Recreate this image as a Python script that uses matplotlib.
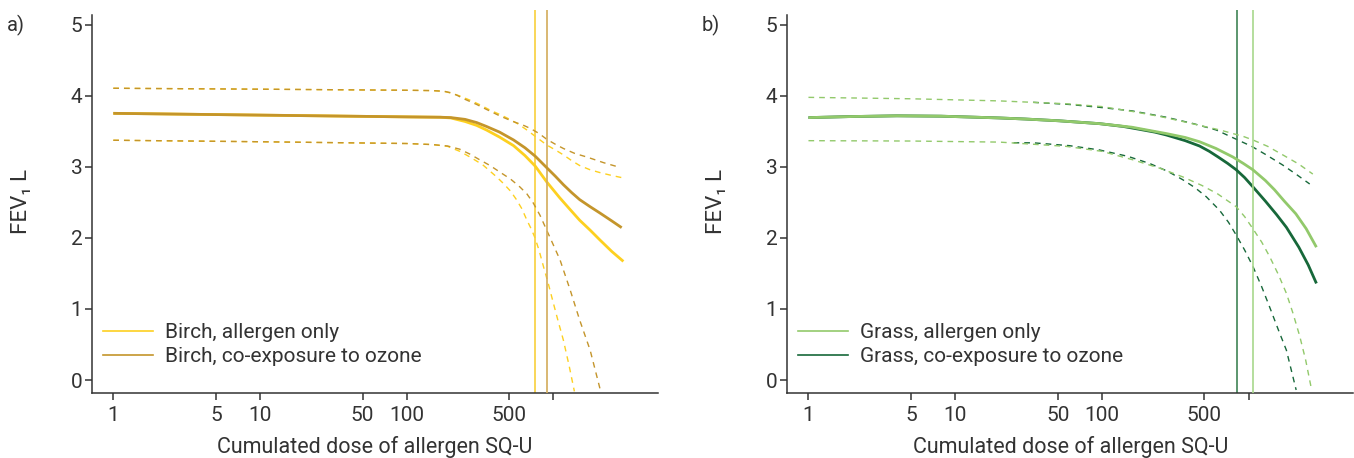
import matplotlib
matplotlib.use("Agg")
import matplotlib.pyplot as plt
from matplotlib.lines import Line2D

plt.rcParams['font.family'] = ['Roboto', 'DejaVu Sans']

# ---------------- data (dose SQ-U, FEV1 L) ----------------
# Panel a: birch
birch_only_x = [1, 10, 100, 170, 200, 250, 300, 350, 430, 535, 640, 753, 900,
                1100, 1300, 1510, 1780, 2080, 2500, 3000]
birch_only_y = [3.755, 3.73, 3.705, 3.70, 3.69, 3.64, 3.585, 3.52, 3.42, 3.30, 3.16, 3.01, 2.79,
                2.57, 2.40, 2.25, 2.11, 1.97, 1.81, 1.67]
birch_only_up_x = [1, 10, 100, 150, 180, 200, 230, 270, 320, 370, 430, 505, 580, 660, 753,
                   900, 1030, 1170, 1330, 1510, 1780, 2080, 2500, 2920]
birch_only_up_y = [4.108, 4.095, 4.08, 4.075, 4.065, 4.04, 4.00, 3.94, 3.87, 3.80, 3.74, 3.67, 3.60,
                   3.52, 3.43, 3.31, 3.24, 3.17, 3.09, 3.02, 2.96, 2.92, 2.88, 2.85]
birch_only_lo_x = [1, 10, 100, 150, 190, 230, 270, 330, 410, 455, 510, 560, 610, 660, 705, 750,
                   800, 855, 925, 1000, 1080, 1170, 1280, 1390]
birch_only_lo_y = [3.376, 3.355, 3.33, 3.315, 3.29, 3.22, 3.14, 3.03, 2.86, 2.77, 2.66, 2.54, 2.41,
                   2.25, 2.13, 2.00, 1.82, 1.60, 1.35, 1.08, 0.82, 0.56, 0.20, -0.16]

birch_oz_x = [1, 10, 100, 170, 200, 250, 300, 350, 430, 535, 640, 753, 900, 1030,
              1170, 1330, 1510, 1780, 2080, 2500, 2920]
birch_oz_y = [3.755, 3.73, 3.705, 3.70, 3.695, 3.67, 3.625, 3.57, 3.49, 3.38, 3.27, 3.15, 2.99, 2.87,
              2.75, 2.64, 2.54, 2.44, 2.35, 2.24, 2.145]
birch_oz_up_x = [1, 10, 100, 150, 180, 200, 220, 245, 300, 350, 430, 530, 620, 700, 800, 900,
                 1030, 1170, 1400, 1690, 2200, 2770]
birch_oz_up_y = [4.108, 4.095, 4.08, 4.075, 4.065, 4.045, 4.01, 3.96, 3.88, 3.81, 3.72, 3.64, 3.59,
                 3.54, 3.47, 3.39, 3.32, 3.26, 3.19, 3.14, 3.06, 3.00]
birch_oz_lo_x = [1, 10, 100, 150, 190, 230, 270, 315, 370, 430, 510, 590, 660, 730, 810, 900,
                 1000, 1110, 1300, 1510, 1780, 2100]
birch_oz_lo_y = [3.376, 3.355, 3.33, 3.315, 3.295, 3.25, 3.18, 3.10, 3.02, 2.93, 2.83, 2.72, 2.62,
                 2.49, 2.32, 2.11, 1.90, 1.69, 1.27, 0.845, 0.42, -0.16]

birch_only_thr = 753
birch_oz_thr = 904

# Panel b: grass
grass_only_x = [1, 2, 4, 8, 14, 20, 30, 51, 96, 160, 275, 370, 463, 600, 782, 920, 1070,
                1300, 1500, 1750, 2100, 2470, 2900]
grass_only_y = [3.695, 3.71, 3.72, 3.715, 3.70, 3.69, 3.675, 3.65, 3.61, 3.56, 3.47, 3.415, 3.355,
                3.26, 3.14, 3.05, 2.96, 2.81, 2.68, 2.52, 2.34, 2.13, 1.87]
grass_only_up_x = [1, 5, 20, 57, 100, 163, 250, 356, 500, 640, 782, 920, 1070, 1350, 1710,
                   2200, 2740]
grass_only_up_y = [3.98, 3.96, 3.93, 3.89, 3.85, 3.78, 3.71, 3.64, 3.57, 3.52, 3.47, 3.43, 3.38,
                   3.29, 3.17, 3.04, 2.90]
grass_only_lo_x = [1, 5, 20, 57, 100, 163, 250, 356, 480, 616, 824, 940, 1070, 1230, 1390, 1600,
                   1810, 2000, 2230, 2450, 2690]
grass_only_lo_y = [3.37, 3.365, 3.35, 3.29, 3.22, 3.10, 2.98, 2.86, 2.74, 2.62, 2.44, 2.30, 2.13,
                   1.94, 1.74, 1.48, 1.22, 0.95, 0.62, 0.28, -0.14]

grass_oz_x = [1, 2, 4, 8, 14, 20, 30, 51, 96, 140, 180, 230, 275, 370, 463, 540, 620, 720, 824,
              940, 1070, 1300, 1550, 1810, 2200, 2550, 2900]
grass_oz_y = [3.695, 3.71, 3.72, 3.715, 3.70, 3.69, 3.675, 3.65, 3.61, 3.57, 3.53, 3.49, 3.45,
              3.37, 3.295, 3.22, 3.14, 3.05, 2.96, 2.85, 2.72, 2.52, 2.33, 2.15, 1.87, 1.62, 1.36]
grass_oz_up_x = [34, 60, 96, 160, 275, 420, 603, 824, 1050, 1320, 1700, 2100, 2610]
grass_oz_up_y = [3.91, 3.88, 3.84, 3.79, 3.70, 3.61, 3.52, 3.39, 3.29, 3.17, 3.03, 2.90, 2.76]
grass_oz_lo_x = [25, 34, 60, 96, 150, 211, 280, 356, 430, 515, 634, 730, 824, 940, 1070, 1230,
                 1390, 1600, 1810, 2110]
grass_oz_lo_y = [3.34, 3.34, 3.30, 3.24, 3.15, 3.05, 2.94, 2.82, 2.71, 2.58, 2.39, 2.22, 2.04,
                 1.83, 1.60, 1.31, 1.03, 0.70, 0.42, -0.14]

grass_only_thr = 1065
grass_oz_thr = 829

xticks = [1, 5, 10, 50, 100, 500, 1000]
xticklabels = ['1', '5', '10', '50', '100', '500', '']
yticks = [0, 1, 2, 3, 4, 5]

# ---------------- styling ----------------
C_YEL = '#FDD020'
C_YEL_V = '#F8D03C'
C_BRN = '#C4952B'
C_BRN_V = '#D3AC5A'
C_LGR = '#92C96B'
C_LGR_V = '#A8D88C'
C_DGR = '#17683A'
C_DGR_V = '#3F8455'
TXT = '#333333'

fig = plt.figure(figsize=(13.54, 4.58), dpi=100)

W = 0.4178
axA = fig.add_axes([0.06817, 0.14192, W, 0.83624])
axB = fig.add_axes([0.5816, 0.14192, W, 0.83624])

DASH = (4.1, 3.6)


def style(ax):
    ax.set_xscale('log')
    ax.set_xlim(0.7194, 5164)
    ax.set_ylim(-0.183, 5.21)
    for s in ['top', 'right']:
        ax.spines[s].set_visible(False)
    for s in ['left', 'bottom']:
        ax.spines[s].set_color(TXT)
        ax.spines[s].set_linewidth(1.1)
    ax.spines['left'].set_bounds(-0.183, 5.14)
    ax.set_xticks(xticks)
    ax.set_xticklabels(xticklabels)
    ax.xaxis.set_minor_locator(matplotlib.ticker.NullLocator())
    ax.set_yticks(yticks)
    ax.tick_params(axis='both', length=5, width=1.1, color=TXT,
                   labelcolor=TXT, labelsize=15)
    ax.tick_params(axis='x', pad=4.5)
    ax.tick_params(axis='y', pad=2.2)
    ax.set_xlabel('Cumulated dose of allergen SQ-U', fontsize=15.5, color=TXT)
    ax.xaxis.set_label_coords(0.5, -0.112)
    ax.set_ylabel('FEV\u2081 L', fontsize=16, color=TXT)
    ax.yaxis.set_label_coords(-0.107, 0.5)


def draw(ax, x, y, ux, uy, lx, ly, thr, col, vcol, z):
    ax.plot(ux, uy, color=col, lw=1.0, dashes=DASH, zorder=z)
    ax.plot(lx, ly, color=col, lw=1.0, dashes=DASH, zorder=z)
    ln, = ax.plot(x, y, color=col, lw=2.0, zorder=z + 0.5,
                  solid_capstyle='butt', solid_joinstyle='round')
    ax.axvline(thr, ymin=0, ymax=1, color=vcol, lw=1.2, zorder=z + 0.2)
    return ln


style(axA)
style(axB)

hA1 = draw(axA, birch_only_x, birch_only_y, birch_only_up_x, birch_only_up_y,
           birch_only_lo_x, birch_only_lo_y, birch_only_thr, C_YEL, C_YEL_V, 2)
hA2 = draw(axA, birch_oz_x, birch_oz_y, birch_oz_up_x, birch_oz_up_y,
           birch_oz_lo_x, birch_oz_lo_y, birch_oz_thr, C_BRN, C_BRN_V, 3)

hB2 = draw(axB, grass_oz_x, grass_oz_y, grass_oz_up_x, grass_oz_up_y,
           grass_oz_lo_x, grass_oz_lo_y, grass_oz_thr, C_DGR, C_DGR_V, 2)
hB1 = draw(axB, grass_only_x, grass_only_y, grass_only_up_x, grass_only_up_y,
           grass_only_lo_x, grass_only_lo_y, grass_only_thr, C_LGR, C_LGR_V, 3)


def legend(ax, handles, labels):
    hs = [Line2D([], [], color=h.get_color(), lw=1.2) for h in handles]
    leg = ax.legend(hs, labels, loc='upper left', bbox_to_anchor=(0.0194, 0.1815),
                    frameon=False, fontsize=15, handlelength=2.37,
                    handletextpad=0.6, borderpad=0, borderaxespad=0,
                    labelspacing=0.22)
    for t in leg.get_texts():
        t.set_color(TXT)


legend(axA, [hA1, hA2], ['Birch, allergen only', 'Birch, co-exposure to ozone'])
legend(axB, [hB1, hB2], ['Grass, allergen only', 'Grass, co-exposure to ozone'])

fig.text(16 / 1354, 1 - 25 / 458, 'a)', ha='center', va='center', fontsize=14.5, color=TXT)
fig.text(711 / 1354, 1 - 25 / 458, 'b)', ha='center', va='center', fontsize=14.5, color=TXT)

fig.savefig('out.png', dpi=100)
